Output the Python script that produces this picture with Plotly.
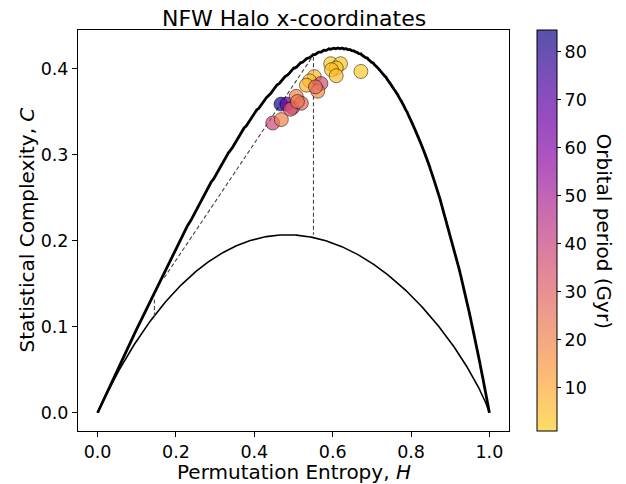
import numpy as np
import plotly.graph_objects as go

# ---------------- data ----------------
N_STATES = 120  # number of ordinal patterns (D=5)

entropy_H = [0.595, 0.620, 0.609, 0.597, 0.609, 0.672,
             0.553, 0.541, 0.533, 0.570, 0.562, 0.556,
             0.468, 0.483, 0.498, 0.507, 0.520, 0.492, 0.510,
             0.447, 0.469]
complexity_C = [0.406, 0.406, 0.401, 0.399, 0.392, 0.397,
                0.391, 0.386, 0.381, 0.383, 0.374, 0.379,
                0.359, 0.359, 0.355, 0.368, 0.360, 0.353, 0.362,
                0.337, 0.341]
orbital_period = [2, 3, 2, 4, 5, 2,
                  6, 5, 7, 36, 18, 26,
                  84, 65, 38, 20, 28, 34, 24,
                  38, 20]

dash_x1 = [0.145, 0.145]
dash_y1 = [0.112, 0.135]
dash_x2 = [0.170, 0.548]
dash_y2 = [0.157, 0.414]
dash_x3 = [0.551, 0.551]
dash_y3 = [0.414, 0.207]

x_ticks = [0.0, 0.2, 0.4, 0.6, 0.8, 1.0]
y_ticks = [0.0, 0.1, 0.2, 0.3, 0.4]
cb_ticks = [10, 20, 30, 40, 50, 60, 70, 80]
c_min, c_max = 1.0, 84.5

# ---------------- theory curves ----------------
def shannon(P):
    P = np.asarray(P)
    P = P[P > 0]
    return -np.sum(P * np.log(P))

def hc(P, N):
    P = np.asarray(P, dtype=float)
    Pe = np.full(N, 1.0 / N)
    S = shannon(P)
    H = S / np.log(N)
    Q0 = -2.0 / (((N + 1.0) / N) * np.log(N + 1.0) - 2 * np.log(2.0 * N) + np.log(N))
    JS = shannon((P + Pe) / 2) - S / 2 - np.log(N) / 2
    return H, Q0 * JS * H

def min_curve(N, n=400):
    hs, cs = [], []
    for p in np.linspace(1.0 / N, 1.0, n):
        P = np.full(N, (1 - p) / (N - 1))
        P[0] = p
        h, c = hc(P, N)
        hs.append(h); cs.append(c)
    return hs, cs

def max_curve(N, n=30):
    hs, cs = [], []
    for k in range(0, N - 1):
        m = N - k
        for p in np.linspace(1.0 / m, 0.0, n):
            P = np.zeros(N)
            P[k] = p
            P[k + 1:] = (1 - p) / (m - 1)
            h, c = hc(P, N)
            hs.append(h); cs.append(c)
    return hs, cs

hmin, cmin_c = min_curve(N_STATES)
hmax, cmax_c = max_curve(N_STATES)

# ---------------- colours ----------------
plasma = ['#0d0887', '#41049d', '#6a00a8', '#8f0da4', '#b12a90',
          '#cc4778', '#e16462', '#f2844b', '#fca636', '#fcce25']
alpha = 0.7
def rgba(hx):
    r, g, b = int(hx[1:3], 16), int(hx[3:5], 16), int(hx[5:7], 16)
    return f'rgba({r},{g},{b},{alpha})'
cols = [rgba(c) for c in plasma][::-1]
cscale = [[i / (len(cols) - 1), c] for i, c in enumerate(cols)]

FONT = 'DejaVu Sans'
fig = go.Figure()

fig.add_trace(go.Scatter(x=hmax, y=cmax_c, mode='lines',
                         line=dict(color='black', width=2.8), hoverinfo='skip'))
fig.add_trace(go.Scatter(x=hmin, y=cmin_c, mode='lines',
                         line=dict(color='black', width=1.6), hoverinfo='skip'))
for dx, dy in [(dash_x1, dash_y1), (dash_x2, dash_y2), (dash_x3, dash_y3)]:
    fig.add_trace(go.Scatter(x=dx, y=dy, mode='lines',
                             line=dict(color='#444444', width=1.1, dash='4px,2.5px'),
                             hoverinfo='skip'))

fig.add_trace(go.Scatter(
    x=entropy_H, y=complexity_C, mode='markers',
    marker=dict(size=14, color=orbital_period, colorscale=cscale,
                cmin=c_min, cmax=c_max,
                line=dict(color='rgba(0,0,0,0.55)', width=0.9),
                colorbar=dict(thickness=20, len=1.0, lenmode='fraction',
                              x=1.065, xanchor='left', y=0.5, yanchor='middle',
                              xpad=0, ypad=0,
                              outlinewidth=1, outlinecolor='black',
                              ticks='outside', ticklen=4, tickwidth=1,
                              tickcolor='black',
                              tickvals=cb_ticks,
                              tickfont=dict(family=FONT, size=17.5, color='black'))),
    hoverinfo='skip'))

axis_common = dict(showgrid=False, zeroline=False, showline=True, linecolor='black',
                   linewidth=1, mirror=True, ticks='outside', ticklen=5,
                   tickwidth=1, tickcolor='black',
                   tickfont=dict(family=FONT, size=17.5, color='black'))

# the page body adds an 8px offset, so the margins are reduced by 8px
fig.update_layout(
    width=626, height=484,
    margin=dict(l=70, r=125, t=22, b=61, autoexpand=False),
    paper_bgcolor='white', plot_bgcolor='white',
    showlegend=False,
    xaxis=dict(range=[-0.05, 1.05], tickvals=x_ticks,
               ticktext=[f'{v:.1f}' for v in x_ticks], **axis_common),
    yaxis=dict(range=[-0.0212, 0.4452], tickvals=y_ticks,
               ticktext=[f'{v:.1f}' for v in y_ticks], **axis_common),
    annotations=[
        dict(text='NFW Halo x-coordinates', xref='paper', yref='paper',
             x=0.5, y=1.0, yshift=12, showarrow=False,
             font=dict(family=FONT, size=22, color='black'),
             xanchor='center', yanchor='middle'),
        dict(text='Permutation Entropy, <i>H</i>', xref='paper', yref='paper',
             x=0.5, y=0, yshift=-41, showarrow=False,
             font=dict(family=FONT, size=20, color='black'),
             xanchor='center', yanchor='middle'),
        dict(text='Statistical Complexity, <i>C</i>', xref='paper', yref='paper',
             x=0, xshift=-52, y=0.5, showarrow=False, textangle=-90,
             font=dict(family=FONT, size=20, color='black'),
             xanchor='center', yanchor='middle'),
        dict(text='Orbital period (Gyr)', xref='paper', yref='paper',
             x=1, xshift=95, y=0.5, showarrow=False, textangle=90,
             font=dict(family=FONT, size=20, color='black'),
             xanchor='center', yanchor='middle'),
    ],
)

fig.write_html('out.html')
